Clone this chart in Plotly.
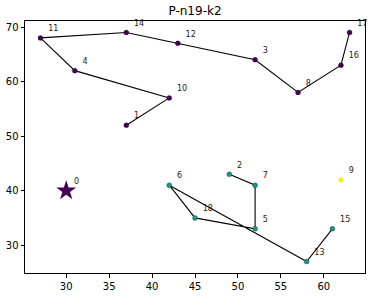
import plotly.graph_objects as go

title = "P-n19-k2"
node_ids = [0, 1, 2, 3, 4, 5, 6, 7, 8, 9, 10, 11, 12, 13, 14, 15, 16, 17, 18]
node_x = [30, 37, 49, 52, 31, 52, 42, 52, 57, 62, 42, 27, 43, 58, 37, 61, 62, 63, 45]
node_y = [40, 52, 43, 64, 62, 33, 41, 41, 58, 42, 57, 68, 67, 27, 69, 33, 63, 69, 35]
routes = [
    [1, 10, 4, 11, 14, 12, 3, 8, 16, 17],
    [2, 7, 5, 18, 6, 13, 15],
    [9],
]
route_colors = ["#440154", "#21918c", "#fde725"]
x_ticks = [30, 35, 40, 45, 50, 55, 60]
y_ticks = [30, 40, 50, 60, 70]

fig = go.Figure()
for r, col in zip(routes, route_colors):
    xs = [node_x[i] for i in r]
    ys = [node_y[i] for i in r]
    if len(r) > 1:
        fig.add_trace(go.Scatter(x=xs, y=ys, mode="lines",
                                 line=dict(color="black", width=1.1), hoverinfo="skip"))
for r, col in zip(routes, route_colors):
    xs = [node_x[i] for i in r]
    ys = [node_y[i] for i in r]
    fig.add_trace(go.Scatter(x=xs, y=ys, mode="markers",
                             marker=dict(color=col, size=5,
                                         line=dict(color="rgba(0,0,0,0.4)", width=0.6) if col != "#fde725" else dict(width=0))))
# depot
fig.add_trace(go.Scatter(x=[node_x[0]], y=[node_y[0]], mode="markers",
                         marker=dict(symbol="star", color="#440154", size=15, line=dict(width=0))))
# labels
fig.add_trace(go.Scatter(x=[v + 0.9 for v in node_x], y=[v + 1.6 for v in node_y],
                         mode="text", text=[str(i) for i in node_ids],
                         textposition="middle right", cliponaxis=False,
                         textfont=dict(family="DejaVu Sans", size=8, color="#222")))

axis_common = dict(showline=True, mirror=True, linecolor="black", linewidth=1,
                   ticks="outside", ticklen=3.5, tickwidth=1, tickcolor="black",
                   showgrid=False, zeroline=False, automargin=False,
                   tickfont=dict(family="DejaVu Sans", size=10, color="black"))
fig.update_layout(
    width=374, height=296,
    margin=dict(l=25, r=9, t=21, b=23),
    plot_bgcolor="white", paper_bgcolor="white",
    showlegend=False,
    title=dict(text=title, x=(25 + 365) / 2 / 374, xanchor="center", y=1 - 11 / 296, yanchor="middle",
               font=dict(family="DejaVu Sans", size=12, color="black")),
    xaxis=dict(range=[25.2, 64.8], tickvals=x_ticks, **axis_common),
    yaxis=dict(range=[24.9, 71.1], tickvals=y_ticks, **axis_common),
)
fig.write_html("out.html", config={"displayModeBar": False},
               post_script="document.body.style.margin='0';document.body.style.padding='0';")
